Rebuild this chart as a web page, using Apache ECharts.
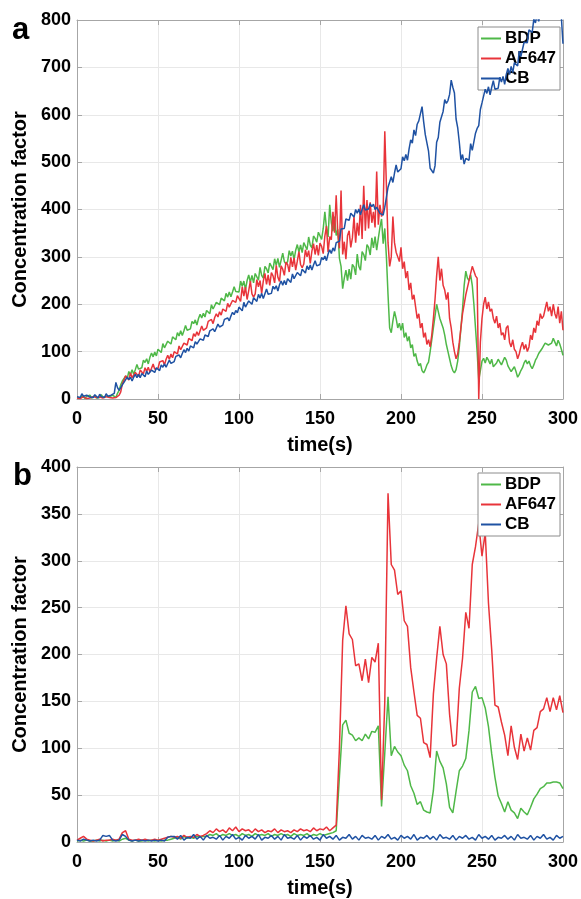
<!DOCTYPE html>
<html>
<head>
<meta charset="utf-8">
<script src="https://cdn.jsdelivr.net/npm/echarts@6/dist/echarts.min.js"></script>
<style>
html,body{margin:0;padding:0;background:#fff;}
#chart{width:581px;height:899px;}
</style>
</head>
<body>
<div id="chart"></div>
<script>
// Sampling steps of the time axes (s)
const STEP_A = 1;
const STEP_B = 2;
const seriesNames = ['BDP', 'AF647', 'CB'];
const xTicks = [0, 50, 100, 150, 200, 250, 300];

// ---- Panel a (t = 0..300 s, every 1 s) ----
const bdpA = [
  3,5,2,7,4,1,6,3,8,2, 4,7,2,5,3,9,4,1,6,3, 5,2,8,4,3,12,18,30,38,42,
  48,43,58,51,62,52,62,73,63,62, 66,82,77,85,74,88,97,89,99,91, 105,103,98,117,108,105,122,121,116,131,
  130,125,140,133,144,134,144,155,145,144, 148,164,159,167,156,170,179,171,181,173, 187,186,180,199,190,187,204,203,199,213,
  212,207,223,215,226,216,226,237,227,225, 226,249,238,249,231,250,262,246,261,245, 265,261,251,278,261,255,280,275,266,287,
  284,273,296,282,297,278,293,308,290,285, 290,313,302,312,294,314,326,310,325,309, 330,326,315,342,325,319,344,339,331,352,
  348,337,360,395,361,342,410,372,354,385, 345,358,297,280,233,255,272,250,274,253, 284,279,262,306,280,272,311,305,292,326,
  320,304,340,319,343,314,339,362,380,328, 360,300,220,150,140,165,185,170,150,160, 145,160,130,140,122,132,108,115,90,96,
  80,70,75,60,55,62,72,78,100,125, 150,175,200,185,170,160,150,135,115,100, 85,70,60,55,62,80,110,150,190,240,
  270,255,250,262,240,200,150,100,40,60, 80,86,76,88,82,74,84,68,72,76, 84,78,72,80,88,82,70,66,58,62,
  68,58,46,52,60,66,76,82,74,80, 70,64,72,82,88,96,100,106,112,118, 122,114,110,118,128,120,112,124,116,105,
  92];
const af647A = [
  2,4,1,3,5,2,1,4,2,3, 5,2,3,1,4,6,2,3,5,2, 3,4,2,5,3,6,8,15,32,40,
  49,46,40,55,45,43,56,54,48,61, 59,53,66,58,67,57,65,74,63,61, 65,78,74,81,72,84,92,84,95,87,
  100,99,95,112,104,103,118,118,114,128, 128,123,138,132,142,134,144,154,145,145, 150,164,160,168,159,172,180,173,184,177,
  190,189,185,202,194,193,208,208,204,218, 222,206,237,217,236,210,229,249,222,215, 222,252,237,250,223,249,265,242,262,240,
  267,260,245,282,257,248,281,274,261,289, 284,268,299,279,298,272,291,311,284,277, 285,315,300,313,286,312,328,305,325,303,
  329,322,307,344,365,310,343,336,395,351, 430,350,318,440,305,332,295,345,355,320, 340,385,330,372,345,410,338,450,355,420,
  360,415,372,395,362,480,368,410,385,400, 565,450,330,280,300,385,330,310,300,290, 320,275,290,255,270,230,245,210,220,195,
  170,180,150,160,130,140,115,125,110,135, 170,210,260,300,250,275,240,230,210,225, 170,150,120,100,85,95,120,150,180,200,
  220,235,250,265,280,270,260,255,0,120, 170,200,215,190,205,185,190,170,160,175, 150,160,135,140,125,150,155,120,110,125,
  105,100,85,95,110,120,105,115,100,110, 135,125,150,140,165,155,180,170,175,190, 205,185,195,175,200,180,170,195,160,185,
  145];
const cbA = [
  5,9,3,11,6,2,8,12,4,7, 3,9,6,2,10,5,8,3,11,6, 4,8,6,12,35,24,18,22,30,35,
  36,46,41,46,38,46,52,45,52,45, 54,52,47,59,52,50,61,59,56,66, 65,60,72,67,74,67,75,82,75,74,
  79,90,87,93,87,96,104,98,107,101, 112,111,108,121,116,114,127,126,124,135, 135,132,144,140,148,142,150,158,152,152,
  156,168,165,171,165,175,183,178,187,182, 194,192,186,204,194,191,207,205,200,214, 212,206,221,213,223,212,222,232,221,219,
  223,238,232,239,228,241,249,240,250,241, 254,252,246,264,254,251,267,265,260,274, 272,266,281,273,283,272,283,292,281,279,
  284,299,294,302,292,306,315,307,319,312, 330,332,333,359,357,360,380,380,377,392, 390,384,400,392,401,389,400,410,399,396,
  401,412,406,411,400,405,406,392,392,388, 405,407,447,447,469,457,477,494,479,478, 486,511,503,516,504,528,547,540,568,556,
  580,587,587,617,585,558,554,523,487,489, 477,492,542,552,584,581,607,632,624,630, 643,673,658,646,591,573,542,505,516,496,
  508,507,504,539,525,528,561,571,577,611, 625,627,654,645,659,642,658,672,654,650, 656,679,669,681,664,685,698,685,702,689,
  710,710,703,734,723,724,753,755,752,779, 780,774,802,794,812,797,814,829,812,808, 813,835,824,834,814,829,836,817,828,806,
  750];

// ---- Panel b (t = 0..300 s, every 2 s) ----
const bdpB = [1,2,1,2,1,1,2,1,2,1,2,1,2,1,3,4,2,1,2,1,1,2,1,2,1,2,1,2,2,3,
  4,5,3,6,4,5,4,6,5,6,
  6,8,7,9,6,8,7,9,7,8,6,9,7,8,6,9,7,8,7,9,6,8,7,9,7,8,6,9,7,8,7,9,6,8,7,9,7,8,9,10,
  12,70,125,130,116,114,108,111,108,115,110,118,117,124,38,95,155,92,102,96,92,82,76,60,52,40,43,34,32,31,55,97,86,79,62,37,31,54,76,81,89,119,160,166,153,154,143,123,94,69,49,41,32,43,34,31,25,36,32,29,37,46,51,57,59,63,63,64,64,63,57];
const af647B = [2,4,6,3,2,1,2,3,1,2,2,3,2,3,10,12,3,2,2,3,2,3,2,2,3,2,3,4,5,6,
  5,6,4,7,5,6,5,8,6,7,
  9,12,10,14,11,13,10,15,12,16,11,14,12,13,10,14,11,13,10,12,11,14,10,13,11,12,10,13,11,14,12,13,11,15,12,14,13,16,12,15,
  18,100,215,252,222,216,188,190,172,195,170,197,192,212,45,150,372,296,290,264,268,236,230,186,160,135,132,106,104,90,158,196,230,200,190,136,102,104,164,196,245,228,296,315,340,305,330,255,205,146,144,128,114,92,124,101,88,115,97,111,98,119,122,139,142,154,139,154,141,156,138];
const cbB = [2,1,3,2,1,2,1,2,7,6,7,2,1,2,8,6,2,1,2,1,2,1,2,1,2,1,2,1,5,6,
  6,3,7,2,5,4,8,3,6,2,7,4,5,3,7,2,6,4,8,3,5,2,7,4,6,3,8,2,5,4,7,3,6,2,8,4,5,3,7,2,
  6,4,7,3,5,2,8,4,6,3,7,2,5,4,8,3,6,2,7,4,5,3,7,2,6,4,8,3,5,2,7,4,6,3,8,2,5,4,7,3,
  6,2,8,4,5,3,7,2,6,4,7,3,5,2,8,4,6,3,7,2,5,4,7,3,6,2,8,4,5,3,7,2,6,4,8,3,5,2,7,4,6];

const colors = ['#4fb848', '#e8343a', '#1f52a3'];
const FONT = 'Liberation Sans, Arial, Helvetica, sans-serif';
const pair = (arr, step) => arr.map((v, i) => [i * step, v]);

const grids = [
  {left: 77, top: 20, width: 487, height: 379},
  {left: 77, top: 467, width: 487, height: 379}
];
const yMax = [800, 400];
const yInt = [100, 50];
const steps = [STEP_A, STEP_B];
const dataSets = [[bdpA, af647A, cbA], [bdpB, af647B, cbB]];

const boxColor = '#a6a6a6';
const xAxes = [], yAxes = [], series = [], legends = [];
grids.forEach((g, gi) => {
  xAxes.push({
    type: 'value', gridIndex: gi, min: 0, max: 300, interval: 50, position: 'bottom',
    axisLine: {show: true, onZero: false, lineStyle: {color: boxColor, width: 1}},
    axisTick: {show: true, inside: true, length: 5, lineStyle: {color: boxColor}},
    axisLabel: {color: '#000', fontSize: 18, fontWeight: 'bold', fontFamily: FONT, margin: 11},
    splitLine: {show: true, lineStyle: {color: '#e8e8e8', width: 1}},
    name: 'time(s)', nameLocation: 'middle', nameGap: 36,
    nameTextStyle: {color: '#000', fontSize: 20, fontWeight: 'bold', fontFamily: FONT}
  });
  xAxes.push({
    type: 'value', gridIndex: gi, min: 0, max: 300, interval: 50, position: 'top',
    axisLine: {show: true, onZero: false, lineStyle: {color: boxColor, width: 1}},
    axisTick: {show: true, inside: true, length: 5, lineStyle: {color: boxColor}},
    axisLabel: {show: false}, splitLine: {show: false}
  });
  yAxes.push({
    type: 'value', gridIndex: gi, min: 0, max: yMax[gi], interval: yInt[gi], position: 'left',
    axisLine: {show: true, onZero: false, lineStyle: {color: boxColor, width: 1}},
    axisTick: {show: true, inside: true, length: 5, lineStyle: {color: boxColor}},
    axisLabel: {color: '#000', fontSize: 18, fontWeight: 'bold', fontFamily: FONT, margin: 6},
    splitLine: {show: true, lineStyle: {color: '#e8e8e8', width: 1}},
    name: 'Concentration factor', nameLocation: 'middle', nameGap: 36, nameRotate: 90,
    nameTextStyle: {color: '#000', fontSize: 20, fontWeight: 'bold', fontFamily: FONT}
  });
  yAxes.push({
    type: 'value', gridIndex: gi, min: 0, max: yMax[gi], interval: yInt[gi], position: 'right',
    axisLine: {show: true, onZero: false, lineStyle: {color: boxColor, width: 1}},
    axisTick: {show: true, inside: true, length: 5, lineStyle: {color: boxColor}},
    axisLabel: {show: false}, splitLine: {show: false}
  });
  dataSets[gi].forEach((arr, si) => {
    series.push({
      type: 'line', name: seriesNames[si], xAxisIndex: gi * 2, yAxisIndex: gi * 2,
      data: pair(arr, steps[gi]), showSymbol: false, symbol: 'none', clip: true,
      lineStyle: {color: colors[si], width: 1.5}, itemStyle: {color: colors[si]},
      emphasis: {disabled: true}, z: 2 + si
    });
  });
  legends.push({
    orient: 'vertical', left: 478, top: gi === 0 ? 27 : 473,
    data: seriesNames, icon: 'rect', itemWidth: 20, itemHeight: 2, itemGap: 3,
    padding: [3, 4, 3, 3],
    backgroundColor: '#fff', borderColor: '#8c8c8c', borderWidth: 1,
    textStyle: {color: '#000', fontSize: 17, fontWeight: 'bold', fontFamily: FONT, padding: [0, 0, 0, -1]},
    selectedMode: false
  });
});

const chart = echarts.init(document.getElementById('chart'), null, {renderer: 'canvas'});
chart.setOption({
  animation: false,
  backgroundColor: '#fff',
  grid: grids,
  xAxis: xAxes,
  yAxis: yAxes,
  legend: legends,
  series: series,
  graphic: [
    {type: 'text', left: 12, top: 15, style: {text: 'a', fontSize: 31, fontWeight: 'bold', fontFamily: FONT, fill: '#000'}},
    {type: 'text', left: 13, top: 461, style: {text: 'b', fontSize: 31, fontWeight: 'bold', fontFamily: FONT, fill: '#000'}}
  ]
});
</script>
</body>
</html>
